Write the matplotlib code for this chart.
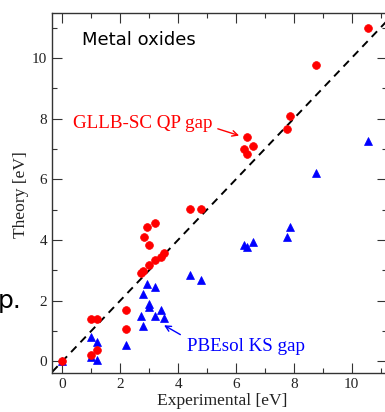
import matplotlib
matplotlib.use("Agg")
import matplotlib.pyplot as plt
from matplotlib.ticker import MultipleLocator

# GLLB-SC quasiparticle gaps (red circles)
gllb_exp = [0.0, 1.0, 1.0, 1.2, 1.2, 2.2, 2.2, 2.72, 2.8, 2.81, 2.92, 3.01, 3.01,
            3.19, 3.21, 3.4, 3.5, 4.4, 4.8, 6.29, 6.39, 6.39, 6.59, 7.77, 7.88,
            8.78, 10.56]
gllb_th = [0.0, 0.2, 1.4, 1.4, 0.36, 1.05, 1.7, 2.9, 2.98, 4.09, 4.41, 3.82, 3.18,
           3.33, 4.56, 3.42, 3.56, 5.03, 5.03, 7.01, 7.38, 6.83, 7.11, 7.66, 8.08,
           9.75, 10.99]

# PBEsol Kohn-Sham gaps (blue triangles)
pbe_exp = [0.0, 1.0, 1.0, 1.2, 1.2, 2.2, 2.71, 2.8, 2.8, 2.92, 3.01, 3.01, 3.19,
           3.2, 3.4, 3.5, 4.41, 4.8, 6.28, 6.39, 6.59, 7.77, 7.88, 8.78, 10.56]
pbe_th = [0.0, 0.79, 0.13, 0.63, 0.03, 0.54, 1.48, 1.15, 2.21, 2.55, 1.9, 1.8, 2.44,
          1.48, 1.69, 1.42, 2.85, 2.67, 3.82, 3.78, 3.92, 4.11, 4.44, 6.19, 7.25]

diag = [-1, 12]
xticks = [0, 2, 4, 6, 8, 10]
yticks = [0, 2, 4, 6, 8, 10]

serif = "Liberation Serif"

fig = plt.figure(figsize=(3.85, 4.12), dpi=100)
ax = fig.add_axes([52 / 385, 1 - 373 / 412, (387 - 52) / 385, (373 - 13) / 412])

ax.plot(diag, diag, ls=(0, (4, 3)), color="black", lw=1.4, zorder=1)
ax.plot(gllb_exp, gllb_th, "o", color="#ff0000", ms=5.6, mew=0.5, zorder=3)
ax.plot(pbe_exp, pbe_th, "^", color="#0000ff", ms=5.6, mew=0.5, zorder=2)

ax.set_xlim(-0.36, 11.22)
ax.set_ylim(-0.39, 11.48)
ax.set_xticks(xticks)
ax.set_yticks(yticks)
ax.xaxis.set_minor_locator(MultipleLocator(1))
ax.yaxis.set_minor_locator(MultipleLocator(1))
ax.tick_params(which="both", direction="in", top=True, right=True, width=0.8,
               color="#333333")
ax.tick_params(which="major", length=7.5, pad=3.5)
ax.tick_params(which="minor", length=3.5)
for lab in ax.get_xticklabels() + ax.get_yticklabels():
    lab.set_fontfamily(serif)
    lab.set_fontsize(11)
    lab.set_color("#222222")
for sp in ax.spines.values():
    sp.set_linewidth(1.0)
    sp.set_color("#333333")

ax.text(0.67, 10.43, "Metal oxides", fontfamily="DejaVu Sans", fontsize=13,
        ha="left", va="baseline", color="black")
ax.text(0.36, 7.69, "GLLB-SC QP gap", fontfamily=serif, fontsize=13.7,
        ha="left", va="baseline", color="#ff0000")
ax.annotate("", xy=(6.2, 7.41), xytext=(5.28, 7.69),
            arrowprops=dict(arrowstyle="->", color="#ff0000", lw=1.0))
ax.text(4.30, 0.32, "PBEsol KS gap", fontfamily=serif, fontsize=13.7,
        ha="left", va="baseline", color="#0000ff")
ax.annotate("", xy=(3.43, 1.23), xytext=(4.16, 0.83),
            arrowprops=dict(arrowstyle="->", color="#0000ff", lw=1.0))

fig.text(222.5 / 385, 1 - 405 / 412, "Experimental [eV]", fontfamily=serif,
         fontsize=12.6, ha="center", va="baseline", color="#222222")
fig.text(21 / 385, 1 - 195 / 412, "Theory [eV]", fontfamily=serif,
         fontsize=12.6, ha="center", va="center", rotation=90, color="#222222")
fig.text(-2 / 385, 1 - 308 / 412, "p.", fontfamily="DejaVu Sans", fontsize=18,
         ha="left", va="baseline", color="black")

fig.savefig("out.png", dpi=100)
